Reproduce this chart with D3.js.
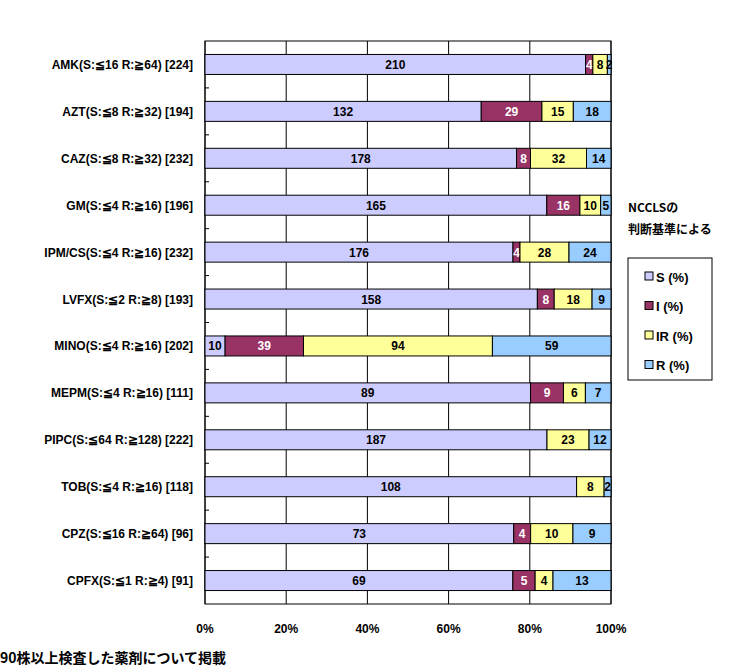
<!DOCTYPE html>
<html><head><meta charset="utf-8">
<script src="https://cdn.jsdelivr.net/npm/d3@7"></script>
<style>body{margin:0;background:#fff}text{font-family:"Liberation Sans Narrow","Liberation Sans",sans-serif;font-weight:bold}</style>
</head><body><div id="chart"></div>
<script>
var drugs = ["AMK(S:≦16 R:≧64) [224]","AZT(S:≦8 R:≧32) [194]","CAZ(S:≦8 R:≧32) [232]","GM(S:≦4 R:≧16) [196]","IPM/CS(S:≦4 R:≧16) [232]","LVFX(S:≦2 R:≧8) [193]","MINO(S:≦4 R:≧16) [202]","MEPM(S:≦4 R:≧16) [111]","PIPC(S:≦64 R:≧128) [222]","TOB(S:≦4 R:≧16) [118]","CPZ(S:≦16 R:≧64) [96]","CPFX(S:≦1 R:≧4) [91]"];
var S  = [210,132,178,165,176,158,10,89,187,108,73,69];
var I  = [4,29,8,16,4,8,39,9,0,0,4,5];
var IR = [8,15,32,10,28,18,94,6,23,8,10,4];
var R  = [2,18,14,5,24,9,59,7,12,2,9,13];
var seriesNames = ["S (%)","I (%)","IR (%)","R (%)"];
var colors = ["#ccccff","#993366","#ffff99","#99ccff"];
var textColors = ["#000","#fff","#000","#000"];
var ticks = ["0%","20%","40%","60%","80%","100%"];

var svg = d3.select("#chart").append("svg").attr("width",738).attr("height",672);
var pLeft = 205, pRight = 611, pTop = 41, pBottom = 604;
var x = d3.scaleLinear().domain([0,1]).range([pLeft,pRight]);
var y = d3.scaleBand().domain(drugs).range([pTop,pBottom]);
var bh = 20;

svg.append("rect").attr("x",pLeft).attr("y",pTop).attr("width",pRight-pLeft).attr("height",pBottom-pTop)
  .attr("fill","none").attr("stroke","#000");
svg.selectAll(".grid").data(ticks).enter().append("line")
  .attr("x1",function(d,i){return x(i/5);}).attr("x2",function(d,i){return x(i/5);})
  .attr("y1",pTop).attr("y2",pBottom).attr("stroke","#000");
// small ticks at band boundaries
svg.selectAll(".yt").data(drugs.slice(1)).enter().append("line")
  .attr("x1",pLeft).attr("x2",pLeft+4)
  .attr("y1",function(d){return y(d);}).attr("y2",function(d){return y(d);}).attr("stroke","#000");

var series = [S,I,IR,R];
drugs.forEach(function(d,i){
  var total = S[i]+I[i]+IR[i]+R[i], cum = 0;
  var cy = y(d)+y.bandwidth()/2;
  series.forEach(function(s,k){
    var v = s[i];
    if(v===0) return;
    var x0 = x(cum/total), x1 = x((cum+v)/total);
    cum += v;
    svg.append("rect").attr("x",x0).attr("y",cy-bh/2).attr("width",x1-x0).attr("height",bh)
      .attr("fill",colors[k]).attr("stroke","#000");
    svg.append("text").attr("x",(x0+x1)/2).attr("y",cy+4.5).attr("text-anchor","middle")
      .attr("font-size",12).attr("fill",textColors[k]).text(v);
  });
  svg.append("text").attr("x",pLeft-12).attr("y",cy+4.5).attr("text-anchor","end")
    .attr("font-size",12).text(d);
});

svg.selectAll(".xl").data(ticks).enter().append("text")
  .attr("x",function(d,i){return x(i/5);}).attr("y",633).attr("text-anchor","middle")
  .attr("font-size",12).text(function(d){return d;});

svg.append("text").attr("x",0).attr("y",663).attr("font-size",14)
  .style("font-family","'Noto Sans CJK JP',sans-serif").text("90株以上検査した薬剤について掲載");

svg.append("text").attr("x",628).attr("y",212).attr("font-size",12)
  .style("font-family","'Noto Sans CJK JP',sans-serif").text("NCCLSの");
svg.append("text").attr("x",628).attr("y",234).attr("font-size",12)
  .style("font-family","'Noto Sans CJK JP',sans-serif").text("判断基準による");

svg.append("rect").attr("x",628).attr("y",258).attr("width",84).attr("height",122)
  .attr("fill","#fff").attr("stroke","#000");
seriesNames.forEach(function(n,k){
  var ly = 277+k*29.5;
  svg.append("rect").attr("x",645).attr("y",ly-5).attr("width",8).attr("height",8)
    .attr("fill",colors[k]).attr("stroke","#000");
  svg.append("text").attr("x",656).attr("y",ly+4.5).attr("font-size",13).text(n);
});
</script></body></html>
